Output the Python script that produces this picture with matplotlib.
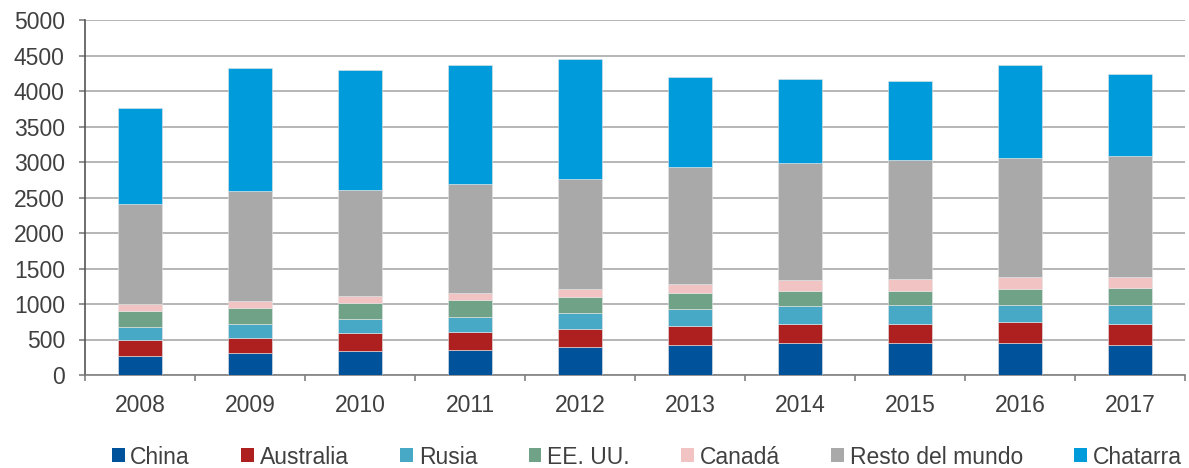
import numpy as np
import matplotlib.pyplot as plt
from matplotlib.patches import Patch

years = ["2008", "2009", "2010", "2011", "2012", "2013", "2014", "2015", "2016", "2017"]

china = [272, 306, 334, 357, 400, 428, 447, 447, 447, 419]
australia = [222, 221, 263, 254, 253, 268, 277, 277, 296, 301]
rusia = [179, 197, 189, 207, 217, 231, 254, 256, 249, 268]
eeuu = [230, 221, 230, 240, 230, 225, 207, 210, 221, 235]
canada = [99, 99, 99, 99, 113, 128, 155, 160, 165, 164]
resto = [1404, 1554, 1497, 1536, 1554, 1653, 1649, 1682, 1682, 1701]
chatarra = [1356, 1728, 1686, 1670, 1681, 1261, 1186, 1115, 1309, 1154]

series = [
    ("China", china, "#00529b"),
    ("Australia", australia, "#ae2020"),
    ("Rusia", rusia, "#47a9c5"),
    ("EE. UU.", eeuu, "#6fa287"),
    ("Canadá", canada, "#f2c3c3"),
    ("Resto del mundo", resto, "#a9a9a9"),
    ("Chatarra", chatarra, "#009bdb"),
]

plt.rcParams['font.family'] = ['Liberation Sans', 'DejaVu Sans']

fig = plt.figure(figsize=(11.89, 4.68), dpi=100)
ax = fig.add_axes([85 / 1189, 1 - 375 / 468, 1100 / 1189, 355 / 468])

x = np.arange(len(years))
bottom = np.zeros(len(years))
for name, vals, col in series:
    ax.bar(x, vals, width=0.4, bottom=bottom, color=col, label=name,
           edgecolor="#e6e6e6", linewidth=0.4, zorder=3)
    bottom += np.array(vals)

ax.set_ylim(0, 5000)
ax.set_xlim(-0.5, len(years) - 0.5)
ax.set_yticks(range(0, 5001, 500))
ax.yaxis.grid(True, color="#b0b0b0", linewidth=1.3, zorder=0)
ax.set_axisbelow(True)

ax.set_xticks(x)
ax.set_xticklabels(years)
ax.set_xticks(np.arange(-0.5, len(years)), minor=True)
ax.tick_params(axis="x", which="major", length=0, pad=14, labelsize=16.5, labelcolor="#404040")
ax.tick_params(axis="x", which="minor", length=4.5, width=1.2, color="#808080", direction="out")
ax.tick_params(axis="y", length=4.5, width=1.2, color="#808080", labelsize=16.5, labelcolor="#404040", pad=10)

for s in ["top", "right"]:
    ax.spines[s].set_visible(False)
ax.spines["left"].set_color("#555555")
ax.spines["bottom"].set_color("#808080")
ax.spines["left"].set_linewidth(1.2)
ax.spines["bottom"].set_linewidth(1.2)

handles = [Patch(facecolor=col, label=name) for name, _, col in series]
fig.legend(handles=handles, loc="center", bbox_to_anchor=(0.544, 1 - 457 / 468), ncol=7,
           frameon=False, fontsize=16.5, handlelength=0.55, handleheight=0.55,
           handletextpad=0.25, columnspacing=2.25, labelcolor="#404040",
           borderpad=0, borderaxespad=0)

fig.savefig("out.png", dpi=100)
